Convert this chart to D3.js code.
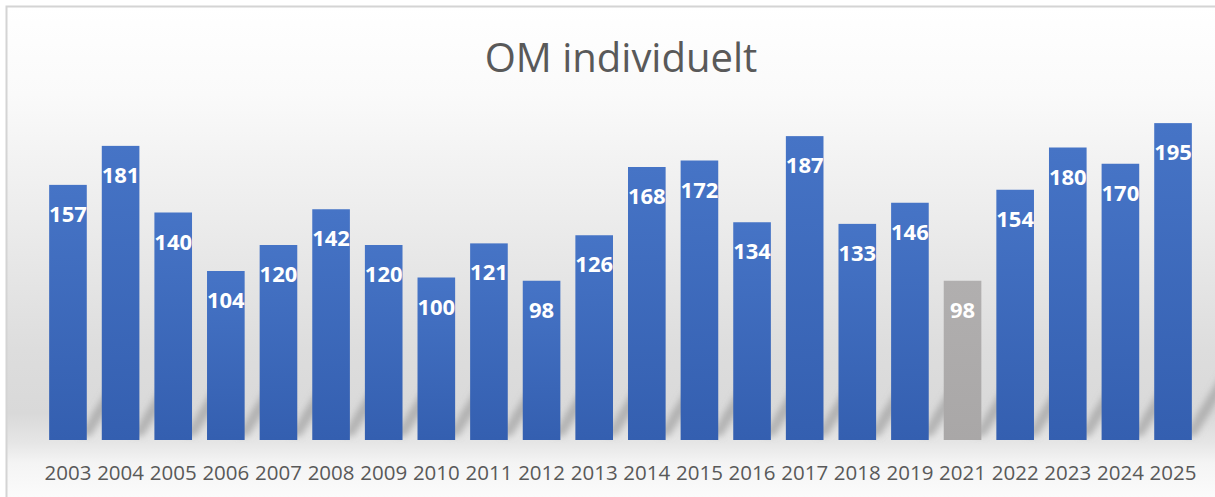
<!DOCTYPE html>
<html>
<head>
<meta charset="utf-8">
<script src="https://cdn.jsdelivr.net/npm/d3@7"></script>
<style>
  html, body { margin: 0; padding: 0; background: #ffffff; }
  svg { display: block; }
</style>
</head>
<body>
<div id="chart"></div>
<script>
const title = "OM individuelt";
const years = ["2003","2004","2005","2006","2007","2008","2009","2010","2011","2012","2013","2014","2015","2016","2017","2018","2019","2021","2022","2023","2024","2025"];
const values = [157,181,140,104,120,142,120,100,121,98,126,168,172,134,187,133,146,98,154,180,170,195];
const highlighted = ["2021"];

const W = 1215, H = 497;
const svg = d3.select("#chart").append("svg").attr("width", W).attr("height", H);
const defs = svg.append("defs");

const bg = defs.append("linearGradient").attr("id", "bg").attr("x1", 0).attr("y1", 0).attr("x2", 0).attr("y2", 1);
[[0, "#ffffff"], [0.18, "#fafafa"], [0.45, "#ebebeb"], [0.7, "#dddddd"], [0.83, "#d9d9d9"], [0.89, "#e6e6e6"], [0.93, "#f4f4f4"], [1, "#fbfbfb"]]
  .forEach(([o, c]) => bg.append("stop").attr("offset", o).attr("stop-color", c));

const blue = defs.append("linearGradient").attr("id", "blue").attr("x1", 0).attr("y1", 0).attr("x2", 0).attr("y2", 1);
blue.append("stop").attr("offset", 0).attr("stop-color", "#4674c6");
blue.append("stop").attr("offset", 1).attr("stop-color", "#345fb0");
const grey = defs.append("linearGradient").attr("id", "grey").attr("x1", 0).attr("y1", 0).attr("x2", 0).attr("y2", 1);
grey.append("stop").attr("offset", 0).attr("stop-color", "#b1afaf");
grey.append("stop").attr("offset", 1).attr("stop-color", "#a9a7a7");

defs.append("filter").attr("id", "blur").attr("x", "-50%").attr("y", "-50%").attr("width", "200%").attr("height", "200%")
  .append("feGaussianBlur").attr("stdDeviation", 3);

svg.append("rect").attr("x", 0).attr("y", 0).attr("width", W).attr("height", H).attr("fill", "#ffffff");
svg.append("rect").attr("x", 6).attr("y", 6).attr("width", W - 6).attr("height", H - 6).attr("fill", "url(#bg)");
svg.append("path").attr("d", `M6.5,${H} V6.5 H${W}`).attr("fill", "none").attr("stroke", "#d4d4d4").attr("stroke-width", 2);

const x = d3.scaleBand().domain(years).range([36, 1205]).paddingInner(0.285).paddingOuter(0.25);
const y = d3.scaleLinear().domain([0, 200]).range([440, 115]);

// soft diagonal reflections behind bars
const shadowG = svg.append("g").attr("filter", "url(#blur)");
shadowG.selectAll("path").data(years).join("path")
  .attr("d", d => {
    const x0 = x(d), bw = x.bandwidth(), b = y(0) - 4;
    const h = 66, dx = 40, t = 8;
    return `M${x0 + bw - t},${b} L${x0 + bw + 4},${b} L${x0 + bw + dx + 4},${b - h} L${x0 + bw + dx - t},${b - h} Z`;
  })
  .attr("fill", "#8f8f8f").attr("opacity", 0.55);

svg.append("g").selectAll("rect").data(years).join("rect")
  .attr("x", d => x(d))
  .attr("y", (d, i) => y(values[i]))
  .attr("width", x.bandwidth())
  .attr("height", (d, i) => y(0) - y(values[i]))
  .attr("fill", d => highlighted.includes(d) ? "url(#grey)" : "url(#blue)");

svg.append("g").selectAll("text").data(years).join("text")
  .attr("x", d => x(d) + x.bandwidth() / 2)
  .attr("y", (d, i) => y(values[i]) + 37)
  .attr("text-anchor", "middle")
  .attr("font-family", "'Open Sans', sans-serif")
  .attr("font-weight", "bold")
  .attr("font-size", 22)
  .attr("fill", "#ffffff")
  .text((d, i) => values[i]);

const xAxis = svg.append("g").attr("transform", `translate(0,${y(0)})`)
  .call(d3.axisBottom(x).tickSize(0).tickPadding(25));
xAxis.select(".domain").remove();
xAxis.selectAll("text")
  .attr("font-family", "'Open Sans', sans-serif")
  .attr("font-size", 20.5)
  .attr("fill", "#595959");

svg.append("text")
  .attr("x", 621).attr("y", 72)
  .attr("text-anchor", "middle")
  .attr("font-family", "'Open Sans', sans-serif")
  .attr("font-size", 40)
  .attr("fill", "#595959")
  .text(title);
</script>
</body>
</html>
